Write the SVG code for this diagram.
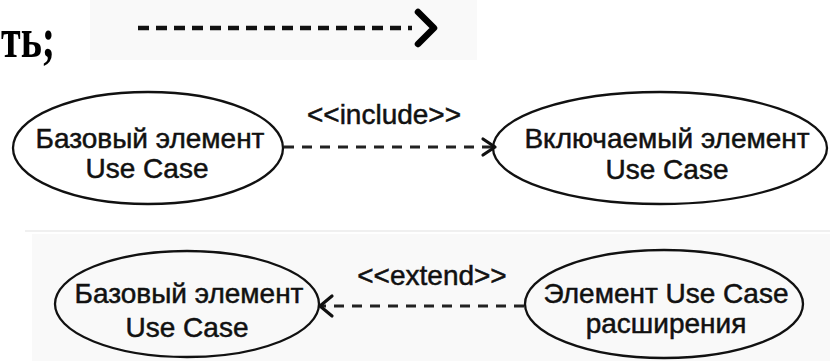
<svg xmlns="http://www.w3.org/2000/svg" width="830" height="361" viewBox="0 0 830 361">
  <defs>
    <style>
      .panel { fill: #f9f9f9; stroke: none; }
      .uc { fill: none; stroke: #111; stroke-width: 2.3; }
      .lbl { font-family: "Liberation Sans", Arial, sans-serif; font-size: 28px; fill: #111; stroke: #111; stroke-width: 0.5; text-anchor: middle; }
      .dash { fill: none; stroke: #222; stroke-width: 2.8; stroke-dasharray: 10 8; }
      .head { fill: none; stroke: #111; stroke-width: 3.2; stroke-linecap: round; stroke-linejoin: round; }
      .big { font-family: "Liberation Serif", "Times New Roman", serif; font-weight: bold; font-size: 40px; fill: #000; }
    </style>
  </defs>
  <rect width="830" height="361" fill="#ffffff"/>

  <!-- top legend -->
  <text class="big" transform="translate(1 57) scale(1 1.45)" x="0" y="0">ть;</text>
  <g id="legend">
    <rect class="panel" x="90" y="0" width="387" height="60"/>
    <line x1="138" y1="28" x2="412" y2="28" stroke="#111" stroke-width="4.5" stroke-dasharray="11 7"/>
    <polyline points="418,12 434,28 418,44" fill="none" stroke="#000" stroke-width="6.5" stroke-linecap="round" stroke-linejoin="round"/>
  </g>

  <!-- faint partial text line -->
  <line x1="25" y1="231" x2="830" y2="231" stroke="#e2e2e2" stroke-width="1.2"/>

  <!-- bottom panel -->
  <rect class="panel" x="32" y="234" width="798" height="127"/>

  <g id="base1">
    <ellipse class="uc" cx="148" cy="148" rx="135" ry="56"/>
    <text class="lbl" x="150" y="148">Базовый элемент</text>
    <text class="lbl" x="147" y="178">Use Case</text>
  </g>
  <g id="included">
    <ellipse class="uc" cx="660" cy="148" rx="167" ry="56"/>
    <text class="lbl" x="667" y="148">Включаемый элемент</text>
    <text class="lbl" x="667" y="179">Use Case</text>
  </g>
  <g id="base2">
    <ellipse class="uc" cx="187" cy="304" rx="132" ry="53"/>
    <text class="lbl" x="189" y="303">Базовый элемент</text>
    <text class="lbl" x="187" y="337">Use Case</text>
  </g>
  <g id="extension">
    <ellipse class="uc" cx="664" cy="304" rx="139" ry="54"/>
    <text class="lbl" x="666" y="303">Элемент Use Case</text>
    <text class="lbl" x="666" y="333">расширения</text>
  </g>

  <g id="connectors">
    <line class="dash" x1="284" y1="147" x2="492" y2="147"/>
    <polyline class="head" points="483,139 495,147 483,155"/>
    <text class="lbl" x="384" y="124">&lt;&lt;include&gt;&gt;</text>

    <line class="dash" x1="524" y1="306" x2="322" y2="306"/>
    <polyline class="head" points="332,296 320,306 332,316"/>
    <text class="lbl" x="432" y="285">&lt;&lt;extend&gt;&gt;</text>
  </g>
</svg>
